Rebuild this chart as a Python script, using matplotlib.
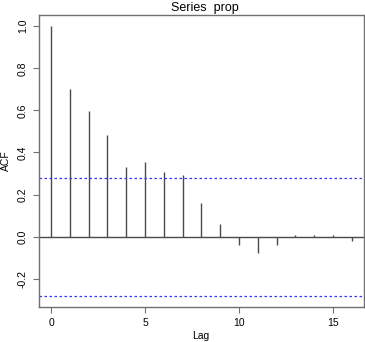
import matplotlib
matplotlib.use("Agg")
import matplotlib.pyplot as plt
import numpy as np

plt.rcParams["font.family"] = ["Liberation Sans", "DejaVu Sans"]

lags = list(range(17))
acf = [1.0, 0.703, 0.597, 0.481, 0.330, 0.357, 0.306, 0.295, 0.160, 0.060,
       -0.038, -0.078, -0.038, 0.008, 0.006, 0.010, -0.020]
ci = 0.281
title = "Series  prop"
xlabel = "Lag"
ylabel = "ACF"
xticks = [0, 5, 10, 15]
yticks = [-0.2, 0.0, 0.2, 0.4, 0.6, 0.8, 1.0]

W, H = 365, 342
fig = plt.figure(figsize=(3.65, 3.42), dpi=100)
ax = fig.add_axes([39 / W, 1 - 306.7 / H, (363.7 - 39) / W, (306.7 - 15.3) / H])
ax.vlines(lags, 0, acf, colors="#4a4a4a", linewidth=1.0)
ax.axhline(0, color="#4a4a4a", linewidth=1.0)
ax.axhline(ci, color="#3333ff", linestyle=(0, (2, 2)), linewidth=0.9)
ax.axhline(-ci, color="#3333ff", linestyle=(0, (2, 2)), linewidth=0.9)
ax.set_xlim(-0.64, 16.64)
ax.set_ylim(-0.333, 1.052)
ax.set_xticks(xticks)
ax.set_xticklabels([str(t) for t in xticks])
ax.set_yticks(yticks)
ax.set_yticklabels([f"{t:.1f}" for t in yticks], rotation=90, va="center")
for s in ax.spines.values():
    s.set_color("#707070")
    s.set_linewidth(1.0)
ax.tick_params(direction="out", length=4, color="#707070", labelsize=7.5, pad=4)
fig.text(205 / W, 1 - 8 / H, title, fontsize=9, ha="center", va="center")
fig.text(201 / W, 1 - 336 / H, xlabel, fontsize=7.5, ha="center", va="center")
fig.text(6 / W, 1 - 161 / H, ylabel, fontsize=7.5, ha="center", va="center", rotation=90)
fig.savefig("out.png", dpi=100)
